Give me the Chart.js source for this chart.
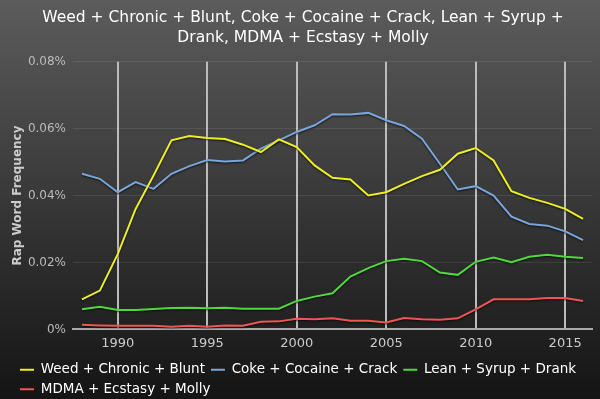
<!DOCTYPE html>
<html>
<head>
<meta charset="utf-8">
<script src="https://cdn.jsdelivr.net/npm/chart.js@4"></script>
<style>
  html, body { margin: 0; padding: 0; }
  body { width: 600px; height: 399px; background: linear-gradient(#5c5c5c, #141414); }
  #wrap { position: relative; width: 600px; height: 399px; }
</style>
</head>
<body>
<div id="wrap"><canvas id="drugChart"></canvas></div>
<script>
// years on the x axis
const years = [1988, 1989, 1990, 1991, 1992, 1993, 1994, 1995, 1996, 1997, 1998, 1999, 2000,
    2001, 2002, 2003, 2004, 2005, 2006, 2007, 2008, 2009, 2010, 2011, 2012, 2013, 2014, 2015, 2016];

// frequency in percent
const weed = [0.0090, 0.0116, 0.0225, 0.0360, 0.0460, 0.0565, 0.0578, 0.0572, 0.0569, 0.0552, 0.0530, 0.0568, 0.0545,
    0.0490, 0.0453, 0.0448, 0.0400, 0.0410, 0.0435, 0.0458, 0.0477, 0.0525, 0.0542, 0.0505, 0.0413, 0.0393, 0.0378, 0.0360, 0.0330];
const coke = [0.0465, 0.0450, 0.0410, 0.0440, 0.0420, 0.0465, 0.0488, 0.0506, 0.0502, 0.0505, 0.0540, 0.0565, 0.0590,
    0.0610, 0.0643, 0.0642, 0.0647, 0.0625, 0.0608, 0.0570, 0.0495, 0.0418, 0.0428, 0.0400, 0.0337, 0.0315, 0.0310, 0.0293, 0.0267];
const lean = [0.0060, 0.0068, 0.0058, 0.0058, 0.0061, 0.0064, 0.0065, 0.0063, 0.0065, 0.0062, 0.0062, 0.0062, 0.0085,
    0.0098, 0.0108, 0.0158, 0.0183, 0.0204, 0.0211, 0.0204, 0.0170, 0.0163, 0.0202, 0.0215, 0.0201, 0.0217, 0.0223, 0.0217, 0.0213];
const molly = [0.0014, 0.0012, 0.0011, 0.0011, 0.0011, 0.0008, 0.0011, 0.0008, 0.0012, 0.0011, 0.0023, 0.0024, 0.0032,
    0.0030, 0.0033, 0.0026, 0.0026, 0.0021, 0.0034, 0.0030, 0.0029, 0.0033, 0.0060, 0.0090, 0.0090, 0.0090, 0.0094, 0.0094, 0.0085];

const seriesNames = ["Weed + Chronic + Blunt", "Coke + Cocaine + Crack", "Lean + Syrup + Drank", "MDMA + Ecstasy + Molly"];
const seriesColors = ["#eeee22", "#7aa5da", "#4fd93a", "#ef5555"];
const yearTicks = [1990, 1995, 2000, 2005, 2010, 2015];
const pctTicks = [0, 0.02, 0.04, 0.06, 0.08];

const font = "'DejaVu Sans', sans-serif";

const toPoints = vals => vals.map((v, i) => ({ x: years[i], y: v }));

// soft dark shadow under the lines
const lineShadow = {
    id: "lineShadow",
    beforeDatasetDraw(chart) {
        const ctx = chart.ctx;
        ctx.save();
        ctx.shadowColor = "rgba(0,0,0,0.7)";
        ctx.shadowBlur = 2;
        ctx.shadowOffsetY = 1;
    },
    afterDatasetDraw(chart) {
        chart.ctx.restore();
    }
};

new Chart(document.querySelector("#drugChart").getContext("2d"), {
    type: "line",
    data: {
        datasets: [weed, coke, lean, molly].map((vals, i) => ({
            label: seriesNames[i],
            data: toPoints(vals),
            borderColor: seriesColors[i],
            backgroundColor: seriesColors[i],
            borderWidth: 2,
            pointRadius: 0,
            pointStyle: "line",
            tension: 0
        }))
    },
    plugins: [lineShadow],
    options: {
        responsive: true,
        maintainAspectRatio: false,
        animation: false,
        layout: { padding: { left: 14, right: 8, top: 4, bottom: -7 } },
        plugins: {
            title: {
                display: true,
                text: ["Weed + Chronic + Blunt, Coke + Cocaine + Crack, Lean + Syrup +", "Drank, MDMA + Ecstasy + Molly"],
                color: "#ffffff",
                font: { family: font, size: 15.5, weight: "normal", lineHeight: 1.28 },
                padding: { top: 4, bottom: 14 }
            },
            legend: {
                position: "bottom",
                align: "start",
                labels: {
                    color: "#ffffff",
                    font: { family: font, size: 13.5 },
                    usePointStyle: true,
                    pointStyle: "line",
                    pointStyleWidth: 14,
                    padding: 6
                }
            },
            tooltip: { enabled: false }
        },
        scales: {
            x: {
                type: "linear",
                min: 1987.5,
                max: 2016.5,
                afterBuildTicks: axis => { axis.ticks = yearTicks.map(v => ({ value: v })); },
                ticks: {
                    color: "#cccccc",
                    font: { family: font, size: 13 },
                    padding: 6,
                    callback: v => String(v)
                },
                grid: { color: "#bbbbbb", lineWidth: 2, drawTicks: false },
                border: { display: true, color: "#aaaaaa", width: 2 }
            },
            y: {
                min: 0,
                max: 0.08,
                afterBuildTicks: axis => { axis.ticks = pctTicks.map(v => ({ value: v })); },
                afterFit: axis => { axis.width = 59; },
                title: {
                    display: true,
                    text: "Rap Word Frequency",
                    color: "#cccccc",
                    font: { family: font, size: 12, weight: "bold" },
                    padding: { top: -3, bottom: 0 }
                },
                ticks: {
                    color: "#bbbbbb",
                    font: { family: font, size: 12 },
                    padding: 7,
                    callback: v => v === 0 ? "0%" : v.toFixed(2) + "%"
                },
                grid: { color: "rgba(255,255,255,0.09)", lineWidth: 1, drawTicks: false },
                border: { display: false }
            }
        }
    }
});
</script>
</body>
</html>
